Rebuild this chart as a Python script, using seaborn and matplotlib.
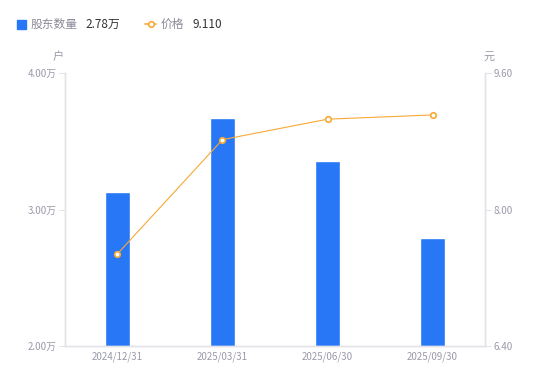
import numpy as np
import pandas as pd
import matplotlib.pyplot as plt
import seaborn as sns
from matplotlib.lines import Line2D
from matplotlib.patches import Rectangle

dates = ['2024/12/31', '2025/03/31', '2025/06/30', '2025/09/30']
holders = [3.13, 3.67, 3.355, 2.79]   # 万户
price = [7.48, 8.82, 9.06, 9.11]

sns.set_style('white')
plt.rcParams['font.family'] = ['Noto Sans CJK SC', 'DejaVu Sans']

blue = '#2777F6'
orange = '#F7A935'
grey = '#9A9AAA'
axis_col = '#E3E3E8'

df = pd.DataFrame({'date': dates, 'holders': holders, 'price': price})

fig = plt.figure(figsize=(5.5, 3.81), dpi=100)
ax = fig.add_axes([0.118, 0.092, 0.764, 0.716])

sns.barplot(data=df, x='date', y='holders', color=blue, width=0.23,
            saturation=1, ax=ax)
ax.set_xlim(-0.5, 3.5)
ax.set_ylim(2, 4)
ax.set_yticks([2, 3, 4])
ax.set_yticklabels(['2.00万', '3.00万', '4.00万'])
ax.set_xlabel('')
ax.set_ylabel('')

ax2 = ax.twinx()
ax2.plot(range(len(dates)), price, color=orange, lw=0.8, marker='o', ms=4,
         mfc='white', mec=orange, mew=1.2)
ax2.set_ylim(6.4, 9.6)
ax2.set_yticks([6.4, 8.0, 9.6])
ax2.set_yticklabels(['6.40', '8.00', '9.60'])

for a in (ax, ax2):
    for s in a.spines.values():
        s.set_color(axis_col)
        s.set_linewidth(1)
    a.spines['top'].set_visible(False)
    a.tick_params(axis='both', colors=grey, labelsize=7, length=4,
                  width=0.8, pad=2)
    a.tick_params(axis='y', color=axis_col)
    a.grid(False)
ax.tick_params(axis='x', length=0, pad=4)
ax2.tick_params(axis='x', length=0)

# unit labels
fig.text(58 / 550, 1 - 57 / 381, '户', color=grey, fontsize=8, ha='center', va='center')
fig.text(489 / 550, 1 - 57 / 381, '元', color=grey, fontsize=8, ha='center', va='center')

# custom legend
fig.patches.append(Rectangle((17 / 550, 1 - 29 / 381), 9 / 550, 9 / 381,
                             transform=fig.transFigure, color=blue))
fig.text(31 / 550, 1 - 24 / 381, '股东数量', color='#8A8A98', fontsize=8.5, va='center')
fig.text(85 / 550, 1 - 24 / 381, '2.78万', color='#333333', fontsize=8.5, va='center')
fig.lines.append(Line2D([145 / 550, 156 / 550], [1 - 24 / 381, 1 - 24 / 381],
                        transform=fig.transFigure, color=orange, lw=1.2))
fig.lines.append(Line2D([150.5 / 550], [1 - 24 / 381], transform=fig.transFigure,
                        color=orange, marker='o', ms=4, mfc='white', mew=1.2, lw=0))
fig.text(161 / 550, 1 - 24 / 381, '价格', color='#8A8A98', fontsize=8.5, va='center')
fig.text(192 / 550, 1 - 24 / 381, '9.110', color='#333333', fontsize=8.5, va='center')

fig.savefig('out.png', dpi=100)
